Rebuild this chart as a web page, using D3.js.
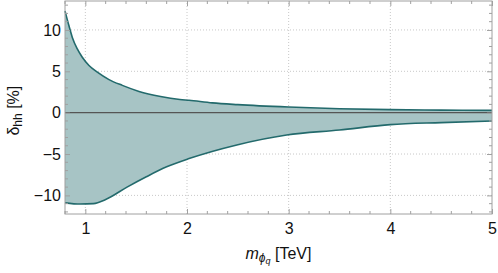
<!DOCTYPE html>
<html>
<head>
<meta charset="utf-8">
<script src="https://cdn.jsdelivr.net/npm/d3@7"></script>
<style>
body { margin: 0; background: #fff; }
svg text { font-family: "Liberation Sans", Arial, sans-serif; fill: #111; }
</style>
</head>
<body>
<div id="chart"></div>
<script>
var width = 498;
var height = 273;
var margin = {top: 1, right: 6, bottom: 59, left: 65};

// band edges (mass in TeV, delta in %)
var upperMass = [0.8, 0.839, 0.872, 0.921, 0.97, 1.036, 1.118, 1.233, 1.364, 1.528, 1.74, 1.93, 2.02, 2.25, 2.5, 3.0, 3.5, 4.0, 4.5, 5.0];
var upperDelta = [12.3, 10.5, 9.1, 7.7, 6.7, 5.7, 4.9, 4.0, 3.3, 2.57, 1.96, 1.6, 1.5, 1.18, 0.97, 0.68, 0.48, 0.37, 0.31, 0.28];
var lowerMass = [0.8, 0.95, 1.08, 1.2, 1.41, 1.6, 1.8, 2.02, 2.49, 2.98, 3.5, 4.0, 4.5, 5.0];
var lowerDelta = [-10.9, -11.05, -11.0, -10.5, -9.0, -7.75, -6.55, -5.55, -3.9, -2.7, -2.1, -1.45, -1.2, -1.0];

var xTicks = [1, 2, 3, 4, 5];
var yTicks = [-10, -5, 0, 5, 10];

var x = d3.scaleLinear().domain([0.8, 5]).range([margin.left, width - margin.right]);
var y = d3.scaleLinear().domain([-12.25, 13.5]).range([height - margin.bottom, margin.top]);

var svg = d3.select("#chart").append("svg").attr("width", width).attr("height", height);

var upper = upperMass.map(function(m, i) { return [m, upperDelta[i]]; });
var lower = lowerMass.map(function(m, i) { return [m, lowerDelta[i]]; });

var line = d3.line()
	.x(function(d) { return x(d[0]); })
	.y(function(d) { return y(d[1]); })
	.curve(d3.curveMonotoneX);

// grid
svg.append("g").selectAll("line").data(xTicks.slice(0, -1)).enter().append("line")
	.attr("x1", function(d) { return x(d); }).attr("x2", function(d) { return x(d); })
	.attr("y1", y.range()[0]).attr("y2", y.range()[1])
	.attr("stroke", "#c8c8c8").attr("stroke-dasharray", "1,2");
svg.append("g").selectAll("line").data(yTicks.filter(function(d) { return d != 0; })).enter().append("line")
	.attr("x1", x.range()[0]).attr("x2", x.range()[1])
	.attr("y1", function(d) { return y(d); }).attr("y2", function(d) { return y(d); })
	.attr("stroke", "#c8c8c8").attr("stroke-dasharray", "1,2");

// filled band
svg.append("path")
	.attr("d", line(upper) + "L" + line(lower.slice().reverse()).slice(1) + "Z")
	.attr("fill", "#a7c4c5");

svg.append("line")
	.attr("x1", x.range()[0]).attr("x2", x.range()[1])
	.attr("y1", y(0)).attr("y2", y(0))
	.attr("stroke", "#555").attr("stroke-width", 1.2);

svg.append("path").attr("d", line(upper)).attr("fill", "none").attr("stroke", "#236a6c").attr("stroke-width", 1.6);
svg.append("path").attr("d", line(lower)).attr("fill", "none").attr("stroke", "#236a6c").attr("stroke-width", 1.6);

// axes with inward ticks on all sides
var gray = "#a0a0a0";
function styleAxis(g) {
	g.select(".domain").remove();
	g.selectAll("line").attr("stroke", gray);
	g.selectAll("text").attr("font-size", "16px").attr("font-family", "Liberation Sans, Arial, sans-serif");
}
var bottom = svg.append("g").attr("transform", "translate(0," + y.range()[0] + ")")
	.call(d3.axisBottom(x).tickValues(xTicks).tickSize(-5).tickPadding(9).tickFormat(d3.format("d")));
styleAxis(bottom);
var left = svg.append("g").attr("transform", "translate(" + x.range()[0] + ",0)")
	.call(d3.axisLeft(y).tickValues(yTicks).tickSize(-5).tickPadding(4).tickFormat(function(d) { return d < 0 ? "\u2212" + (-d) : d; }));
styleAxis(left);
svg.append("g").attr("transform", "translate(0," + y.range()[1] + ")")
	.call(d3.axisTop(x).tickValues(xTicks).tickSize(-5).tickFormat("")).call(styleAxis);
svg.append("g").attr("transform", "translate(" + x.range()[1] + ",0)")
	.call(d3.axisRight(y).tickValues(yTicks).tickSize(-5).tickFormat("")).call(styleAxis);

// minor ticks
var xMinor = d3.range(0.8, 5.001, 0.2).filter(function(v) { return Math.abs(v - Math.round(v)) > 0.01; });
var yMinor = d3.range(-12, 14, 1).filter(function(v) { return v % 5 != 0; });
var minor = svg.append("g").attr("stroke", gray);
xMinor.forEach(function(v) {
	minor.append("line").attr("x1", x(v)).attr("x2", x(v)).attr("y1", y.range()[0]).attr("y2", y.range()[0] - 3);
	minor.append("line").attr("x1", x(v)).attr("x2", x(v)).attr("y1", y.range()[1]).attr("y2", y.range()[1] + 3);
});
yMinor.forEach(function(v) {
	minor.append("line").attr("y1", y(v)).attr("y2", y(v)).attr("x1", x.range()[0]).attr("x2", x.range()[0] + 3);
	minor.append("line").attr("y1", y(v)).attr("y2", y(v)).attr("x1", x.range()[1]).attr("x2", x.range()[1] - 3);
});

// frame
svg.append("rect")
	.attr("x", x.range()[0]).attr("y", y.range()[1])
	.attr("width", x.range()[1] - x.range()[0]).attr("height", y.range()[0] - y.range()[1])
	.attr("fill", "none").attr("stroke", gray);

// axis labels
var xl = svg.append("text").attr("x", (x.range()[0] + x.range()[1]) / 2).attr("y", 259)
	.attr("text-anchor", "middle").attr("font-size", "16px");
xl.append("tspan").attr("font-style", "italic").text("m");
xl.append("tspan").attr("font-style", "italic").attr("font-size", "12px").attr("dy", 3).text("\u03d5");
xl.append("tspan").attr("font-style", "italic").attr("font-size", "9px").attr("dy", 2).text("q");
xl.append("tspan").attr("dy", -5).text(" [TeV]");

var yl = svg.append("text").attr("transform", "translate(19," + (y(0) - 2) + ") rotate(-90)")
	.attr("text-anchor", "middle").attr("font-size", "16px");
yl.append("tspan").text("\u03b4");
yl.append("tspan").attr("font-size", "12px").attr("dy", 3).text("hh");
yl.append("tspan").attr("dy", -3).text(" [%]");
</script>
</body>
</html>
